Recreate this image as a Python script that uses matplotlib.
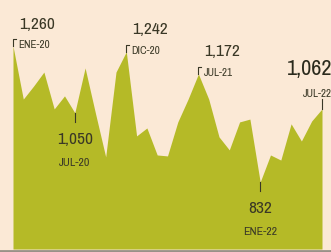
import numpy as np
import matplotlib
matplotlib.use("Agg")
import matplotlib.pyplot as plt
from matplotlib import font_manager

# monthly values, ENE-20 .. JUL-22
months = ["ENE-20", "FEB-20", "MAR-20", "ABR-20", "MAY-20", "JUN-20", "JUL-20", "AGO-20",
          "SEP-20", "OCT-20", "NOV-20", "DIC-20", "ENE-21", "FEB-21", "MAR-21", "ABR-21",
          "MAY-21", "JUN-21", "JUL-21", "AGO-21", "SEP-21", "OCT-21", "NOV-21", "DIC-21",
          "ENE-22", "FEB-22", "MAR-22", "ABR-22", "MAY-22", "JUN-22", "JUL-22"]
values = [1260, 1093, 1134, 1178, 1062, 1103, 1050, 1191,
          1049, 911, 1178, 1242, 977, 1002, 917, 914,
          1021, 1093, 1172, 1093, 974, 933, 1021, 1030,
          832, 917, 901, 1015, 961, 1024, 1062]

# highlighted points: (index, value label, above?)
marks = [(0, "1,260", True), (6, "1,050", False), (11, "1,242", True),
         (18, "1,172", True), (24, "832", False), (30, "1,062", True)]

bg = "#fbe9d6"
green = "#b5ba27"
ink = "#3a3826"

# look for a narrow face, the original uses a condensed type
names = {f.name for f in font_manager.fontManager.ttflist}
narrow = [n for n in sorted(names) if "Narrow" in n or "Condensed" in n]
if narrow:
    font, scale = narrow[0], 1.0
else:
    font, scale = "Liberation Sans", 0.82

W, H = 331, 253
fig = plt.figure(figsize=(W / 100, H / 100), dpi=100, facecolor=bg)
ax = fig.add_axes([13 / W, 3 / H, 309 / W, 250 / H])
ax.set_facecolor(bg)

x = np.arange(len(values))
ymin, ymax = 621, 1408
ax.fill_between(x, values, ymin, color=green, lw=0)
ax.set_xlim(0, len(values) - 1)
ax.set_ylim(ymin, ymax)
ax.axis("off")

# pixel -> data factors
px_x = (len(values) - 1) / 309
px_y = (ymax - ymin) / 250

for i, txt, above in marks:
    v = values[i]
    d = months[i]
    if above:
        if i == len(values) - 1:
            # last point: line straight up, labels right-aligned
            ax.plot([i, i], [v, v + 10 * px_y], color=ink, lw=0.8, clip_on=False)
            ax.annotate(d, (i, v), xytext=(10, 16), textcoords="offset pixels",
                        ha="right", va="center", fontsize=8 * scale, color=ink,
                        family=font, annotation_clip=False)
            ax.annotate(txt, (i, v), xytext=(10, 41), textcoords="offset pixels",
                        ha="right", va="center", fontsize=16 * scale, fontweight="bold",
                        color="#2a2a1c", family=font, annotation_clip=False)
        else:
            ax.plot([i, i, i + 3 * px_x], [v, v + 7 * px_y, v + 7 * px_y],
                    color=ink, lw=0.8, clip_on=False)
            ax.annotate(d, (i, v), xytext=(5, 2), textcoords="offset pixels",
                        ha="left", va="center", fontsize=8 * scale, color=ink,
                        family=font, annotation_clip=False)
            ax.annotate(txt, (i, v), xytext=(6, 23), textcoords="offset pixels",
                        ha="left", va="center", fontsize=12.5 * scale, color=ink,
                        family=font, annotation_clip=False)
    else:
        ax.plot([i, i], [v, v - 9 * px_y], color=ink, lw=0.8)
        ax.annotate(txt, (i, v), xytext=(0, -26), textcoords="offset pixels",
                    ha="center", va="center", fontsize=12.5 * scale, color=ink, family=font)
        ax.annotate(d, (i, v), xytext=(0, -49), textcoords="offset pixels",
                    ha="center", va="center", fontsize=8.5 * scale, color=ink, family=font)

# thin grey rule at the bottom
fig.add_artist(plt.Line2D([0, 1], [1.5 / H, 1.5 / H], color="#9a9188", lw=2))

fig.savefig("out.png", dpi=100, facecolor=bg)
